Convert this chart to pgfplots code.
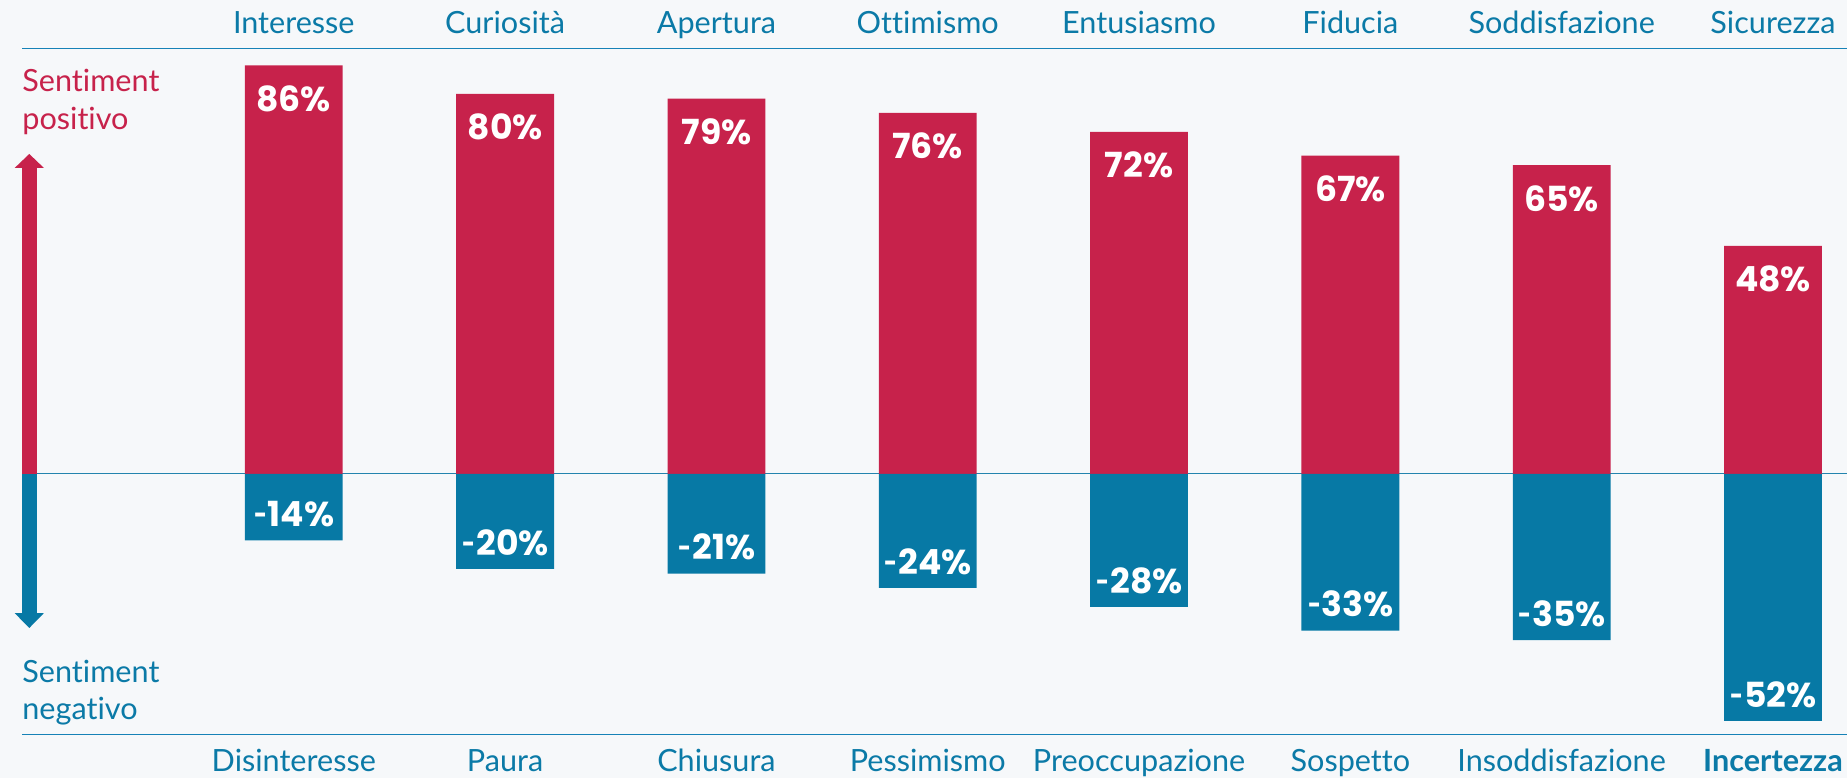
\documentclass[border=0pt]{standalone}
\usepackage{fontspec}
\setmainfont{Lato}[Ligatures=NoCommon]
\newfontfamily\numfam{Poppins}
\usepackage{pgfplots}
\pgfplotsset{compat=1.18}
\definecolor{cred}{HTML}{C7224B}
\definecolor{cblue}{HTML}{0779A5}
\definecolor{ctext}{HTML}{0B7AA7}
\definecolor{cline}{HTML}{1682B7}
\definecolor{czero}{HTML}{2384AE}
\definecolor{bg}{HTML}{F6F8FA}
\newcommand{\catfont}{\fontsize{15.3}{18}\selectfont}
\newcommand{\numfont}{\numfam\fontsize{17.3}{20}\selectfont\bfseries}
\newcommand{\negval}[1]{{\rmfamily\bfseries\fontsize{19}{20}\selectfont -}\kern0.3pt#1}
\pgfplotsset{
  base/.style={
    at={(11pt,21.85pt)}, anchor=south west,
    scale only axis, width=912.5pt, height=343pt,
    xmin=-1.2863, xmax=7.3503, ymin=-54.84, ymax=89.58,
    axis line style={draw=none}, tick style={draw=none},
    ytick=\empty, xtick={0,1,2,3,4,5,6,7},
    clip=false,
  }
}
\begin{document}
\begin{tikzpicture}
\useasboundingbox (0,0) rectangle (923.5pt,389pt);
\fill[bg] (0,0) rectangle (923.5pt,389pt);
\clip (0,0) rectangle (923.5pt,389pt);
\begin{axis}[base,
  xticklabels={Disinteresse,Paura,Chiusura,Pessimismo,Preoccupazione,Sospetto,Insoddisfazione,\textbf{Incertezza}},
  xticklabel style={font=\catfont, text=ctext, anchor=base, yshift=-18.7pt, inner sep=0pt},
]
\draw[cline, line width=0.75pt] (rel axis cs:0,1) -- (rel axis cs:1,1);
\draw[cline, line width=0.75pt] (rel axis cs:0,0) -- (rel axis cs:1,0);
\draw[czero, line width=0.65pt] (axis cs:-1.2168,0) -- (axis cs:7.3503,0);
% arrows
\fill[cred] ([xshift=-3.67pt]axis cs:-1.2518,64.5) rectangle ([xshift=3.67pt]axis cs:-1.2518,0);
\fill[cred] ([xshift=-7.33pt]axis cs:-1.2518,64.38) -- (axis cs:-1.2518,67.33) -- ([xshift=7.33pt]axis cs:-1.2518,64.38) -- cycle;
\fill[cblue] ([xshift=-3.67pt]axis cs:-1.2518,0) rectangle ([xshift=3.67pt]axis cs:-1.2518,-29.45);
\fill[cblue] ([xshift=-7.33pt]axis cs:-1.2518,-29.31) -- (axis cs:-1.2518,-32.46) -- ([xshift=7.33pt]axis cs:-1.2518,-29.31) -- cycle;
% side labels
\node[anchor=base west, inner sep=0pt, text=cred, font=\catfont] at (axis cs:-1.2863,80.4) {Sentiment};
\node[anchor=base west, inner sep=0pt, text=cred, font=\catfont] at (axis cs:-1.2863,72.5) {positivo};
\node[anchor=base west, inner sep=0pt, text=ctext, font=\catfont] at (axis cs:-1.2863,-44.0) {Sentiment};
\node[anchor=base west, inner sep=0pt, text=ctext, font=\catfont] at (axis cs:-1.2863,-51.8) {negativo};
% bars
\addplot[ybar, bar width=0.4628, bar shift=0pt, fill=cred, draw=none]
  coordinates {(0,86) (1,80) (2,79) (3,76) (4,72) (5,67) (6,65) (7,48)};
\addplot[ybar, bar width=0.4628, bar shift=0pt, fill=cblue, draw=none]
  coordinates {(0,-14) (1,-20) (2,-21) (3,-24) (4,-28) (5,-33) (6,-35) (7,-52)};
% value labels
\foreach \i/\v in {0/86,1/80,2/79,3/76,4/72,5/67,6/65,7/48}{
  \edef\temp{\noexpand\node[anchor=base, inner sep=0pt, text=white, font=\noexpand\numfont] at (axis cs:\i,\v-9.7) {\v\noexpand\%};}
  \temp
}
\foreach \i/\v in {0/14,1/20,2/21,3/24,4/28,5/33,6/35,7/52}{
  \edef\temp{\noexpand\node[anchor=base, inner sep=0pt, text=white, font=\noexpand\numfont] at (axis cs:\i,-\v+2.9) {\noexpand\negval{\v\noexpand\%}};}
  \temp
}
\end{axis}
\begin{axis}[base,
  xticklabel pos=upper,
  xticklabels={Interesse,Curiosità,Apertura,Ottimismo,Entusiasmo,Fiducia,Soddisfazione,Sicurezza},
  xticklabel style={font=\catfont, text=ctext, anchor=base, yshift=7.5pt, inner sep=0pt},
]
\end{axis}
\end{tikzpicture}
\end{document}
